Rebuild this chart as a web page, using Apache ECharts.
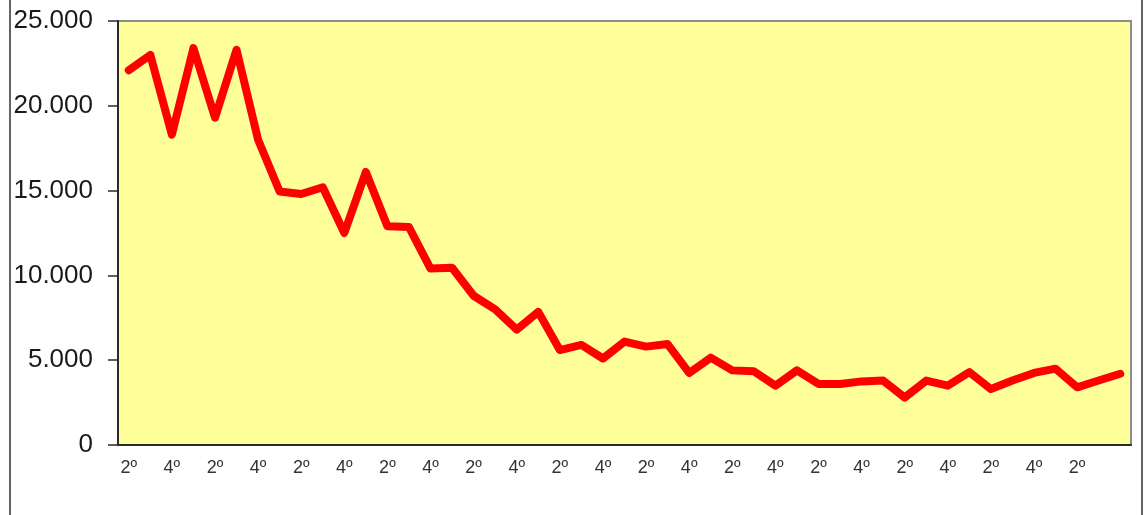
<!DOCTYPE html>
<html>
<head>
<meta charset="utf-8">
<script src="https://cdn.jsdelivr.net/npm/echarts@6/dist/echarts.min.js"></script>
<style>
  html, body { margin: 0; padding: 0; background: #fff; }
  #chart { width: 1144px; height: 515px; }
</style>
</head>
<body>
<div id="chart"></div>
<script>
// quarters, starting at the 2nd quarter
const quarters = [
  "2º", "3º", "4º", "1º", "2º", "3º", "4º", "1º", "2º", "3º", "4º", "1º",
  "2º", "3º", "4º", "1º", "2º", "3º", "4º", "1º", "2º", "3º", "4º", "1º",
  "2º", "3º", "4º", "1º", "2º", "3º", "4º", "1º", "2º", "3º", "4º", "1º",
  "2º", "3º", "4º", "1º", "2º", "3º", "4º", "1º", "2º", "3º", "4º"
];

const values = [
  22100, 23000, 18300, 23400, 19300, 23300, 18000, 14950, 14800, 15200,
  12500, 16100, 12900, 12850, 10400, 10450, 8800, 8000, 6800, 7850,
  5600, 5900, 5100, 6100, 5800, 5950, 4250, 5150, 4400, 4350,
  3500, 4400, 3600, 3600, 3750, 3800, 2800, 3800, 3500, 4300,
  3300, 3800, 4250, 4500, 3400, 3800, 4200
];

const yTicks = [0, 5000, 10000, 15000, 20000, 25000];

function fmt(v) {
  return String(v).replace(/\B(?=(\d{3})+(?!\d))/g, ".");
}

const chart = echarts.init(document.getElementById("chart"));
const option = {
  animation: false,
  backgroundColor: "#ffffff",
  graphic: [
    {
      type: "rect",
      shape: { x: 10, y: -5, width: 1132, height: 530 },
      style: { fill: "none", stroke: "#333", lineWidth: 1.5 },
      silent: true
    }
  ],
  grid: {
    left: 118,
    right: 13,
    top: 21,
    bottom: 70,
    show: true,
    backgroundColor: "#FFFF99",
    borderColor: "#8c8c8c",
    borderWidth: 2
  },
  xAxis: {
    type: "category",
    data: quarters,
    boundaryGap: true,
    axisLine: { show: true, lineStyle: { color: "#2a2a2a", width: 2 } },
    axisTick: { show: false },
    axisLabel: {
      interval: function (index) {
        return index % 2 === 0 && index < quarters.length - 1;
      },
      color: "#333",
      fontFamily: "Liberation Sans",
      fontSize: 18,
      margin: 14
    },
    splitLine: { show: false }
  },
  yAxis: {
    type: "value",
    min: yTicks[0],
    max: yTicks[yTicks.length - 1],
    interval: 5000,
    axisLine: { show: true, lineStyle: { color: "#2a2a2a", width: 2 } },
    axisTick: { show: true, length: 10, lineStyle: { color: "#2a2a2a", width: 1.5 } },
    axisLabel: {
      formatter: fmt,
      color: "#1a1a1a",
      fontFamily: "Liberation Sans",
      fontSize: 26,
      margin: 25
    },
    splitLine: { show: false }
  },
  series: [
    {
      type: "line",
      data: values,
      symbol: "none",
      lineStyle: { color: "#ff0000", width: 8, cap: "round", join: "round" }
    }
  ]
};
chart.setOption(option);
window.addEventListener("resize", function () {
  chart.resize();
});
</script>
</body>
</html>
